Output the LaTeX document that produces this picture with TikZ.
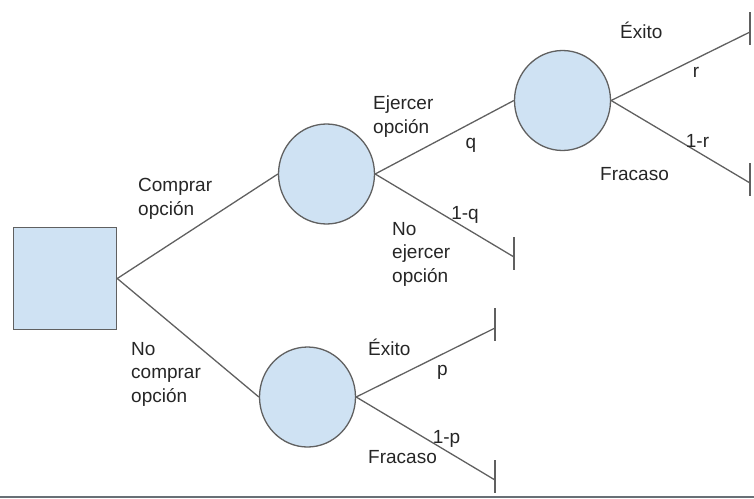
\documentclass[tikz,border=0pt]{standalone}
\usepackage{fontspec}
\setmainfont{Liberation Sans}
\usetikzlibrary{shapes.geometric,calc}
\definecolor{nodefill}{HTML}{CFE2F3}
\definecolor{edgegray}{HTML}{606060}
\definecolor{textgray}{HTML}{262626}
\definecolor{framegray}{HTML}{687076}
\begin{document}
\begin{tikzpicture}[x=1pt,y=-1pt,
  chance/.style={ellipse, draw=edgegray, fill=nodefill, line width=1.3pt, minimum width=96pt, minimum height=100pt, inner sep=0pt},
  decision/.style={rectangle, draw=edgegray, fill=nodefill, line width=1.5pt, minimum width=103pt, minimum height=102pt, inner sep=0pt},
  branch/.style={draw=edgegray, line width=1.3pt},
  lbl/.style={font=\fontsize{19}{23.5}\selectfont, text=textgray, inner sep=0pt, align=left, anchor=base west},
  prob/.style={font=\fontsize{19}{23.5}\selectfont, text=textgray, inner sep=0pt, anchor=base}]
\useasboundingbox (0,0) rectangle (754,498);
% nodes
\node[decision] (sq) at (65,278.5) {};
\node[chance] (ca) at (326.5,174) {};
\node[chance] (cb) at (307.5,397) {};
\node[chance] (cc) at (562.5,100.5) {};
\coordinate (e1) at (514,257);
\coordinate (e2) at (750,32);
\coordinate (e3) at (750,183);
\coordinate (e4) at (495,328);
\coordinate (e5) at (495,480);
% branches
\draw[branch] (sq.east) -- (ca.west);
\draw[branch] (sq.east) -- (cb.west);
\draw[branch] (ca.east) -- (cc.west);
\draw[branch] (ca.east) -- (e1);
\draw[branch] (cc.east) -- (e2);
\draw[branch] (cc.east) -- (e3);
\draw[branch] (cb.east) -- (e4);
\draw[branch] (cb.east) -- (e5);
% terminal bars
\foreach \e in {e1,e2,e3,e4,e5}
  \draw[branch] ($(\e)+(0,-20)$) -- ($(\e)+(0,13)$);
% labels (base = baseline of last line)
\node[lbl] (tcomp) at (138,215) {Comprar\\opción};
\node[lbl] (tnocomp) at (131,402) {No\\comprar\\opción};
\node[lbl] (tej) at (373,133) {Ejercer\\opción};
\node[lbl] (tnoej) at (392,282) {No\\ejercer\\opción};
\node[prob] (pq) at (471,148) {q};
\node[prob] (p1q) at (465,219) {1-q};
\node[lbl] (texito1) at (620,38) {Éxito};
\node[prob] (pr) at (696,77) {r};
\node[prob] (p1r) at (697.5,147) {1-r};
\node[lbl] (tfrac1) at (600,180) {Fracaso};
\node[lbl] (texito2) at (368,355) {Éxito};
\node[prob] (pp) at (442.5,375) {p};
\node[prob] (p1p) at (446.5,443) {1-p};
\node[lbl] (tfrac2) at (368,463) {Fracaso};
% bottom frame line
\draw[draw=framegray, line width=2pt] (0,497) -- (754,497);
\end{tikzpicture}
\end{document}
